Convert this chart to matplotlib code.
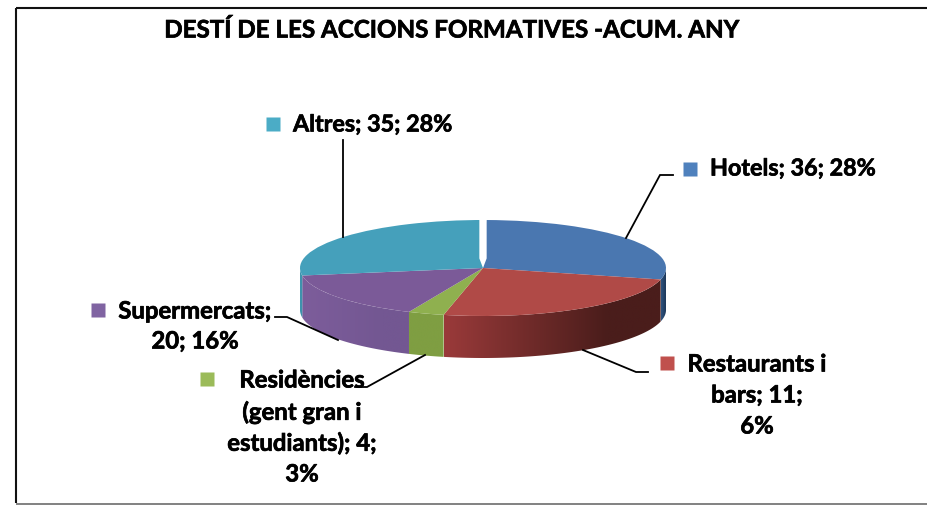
import numpy as np
import matplotlib
matplotlib.use("Agg")
import matplotlib.pyplot as plt
import matplotlib.patheffects as pe
from matplotlib.colors import to_rgb
from matplotlib.patches import Polygon

# Data
categories = ["Hotels", "Restaurants i bars", "Residències (gent gran i estudiants)", "Supermercats", "Altres"]
slice_values = [36, 31, 4, 20, 35]      # sizes as drawn in the picture
top_colors = ["#4a77b0", "#b04a47", "#8fb04f", "#7b5a98", "#45a0bb"]
side_left = ["#2f5480", "#9a3a3a", "#7f9e42", "#7d5d9b", "#3f93ad"]
side_right = ["#1e3a5c", "#4a1d1b", "#7f9e42", "#735792", "#3f93ad"]
marker_colors = ["#4f81bd", "#c0504d", "#9bbb59", "#8064a2", "#4bacc6"]
title = "DESTÍ DE LES ACCIONS FORMATIVES -ACUM. ANY"

# label text: lines, x, y list, alignment; marker pos; leader; font size
labels = [
    (["Hotels; 36; 28%"], 710, [169], "left", (690.5, 168.5), [(673, 175), (660, 175), (626, 238)], 16.8),
    (["Restaurants i", "bars; 11;", "6%"], 757, [364, 395, 426], "center", (667.5, 363), [(648, 372), (636, 372), (583, 350)], 17.2),
    (["Residències", "(gent gran i", "estudiants); 4;", "3%"], 302, [380, 412, 443, 474], "center", (207, 379), [(355, 387), (367, 387), (425, 355)], 17.2),
    (["Supermercats;", "20; 16%"], 195, [311, 341], "center", (98, 310), [(275, 317), (287, 317), (338, 340)], 17.2),
    (["Altres; 35; 28%"], 293, [125], "left", (273.5, 123.5), [(343, 140), (343, 237)], 16.8),
]
FONT = "Lato"
W, H = 928, 505
CX, CY, RX, RY, DEPTH = 483, 268, 183, 48, 42
START = 89
bolder = [pe.withStroke(linewidth=0.5, foreground="black")]

fig = plt.figure(figsize=(W / 100, H / 100), dpi=100, facecolor="white")

# frame in pixel coordinates
bg = fig.add_axes([0, 0, 1, 1])
bg.set_xlim(0, W)
bg.set_ylim(H, 0)
bg.axis("off")
bg.plot([16, 16], [8, 503], color="#111111", lw=1.5, solid_capstyle="butt")
bg.plot([16, W], [8, 8], color="#111111", lw=1.5, solid_capstyle="butt")
bg.plot([16, W], [503.5, 503.5], color="#777777", lw=1.3, solid_capstyle="butt")

# pie: unit circle stretched to an ellipse by the axes box
ax = fig.add_axes([(CX - RX) / W, 1 - (CY + RY) / H, 2 * RX / W, 2 * RY / H])
wedges, _ = ax.pie(slice_values, colors=top_colors, startangle=START, counterclock=False,
                   radius=1, wedgeprops={"linewidth": 0})
for w in wedges:
    w.set_clip_on(False)
    w.set_zorder(5)
# white gap between the first and last slice
ax.fill([0, -0.02, -0.02, 0.02, 0.02], [0.0, 0.2, 1.04, 1.04, 0.2], color="white", lw=0, clip_on=False, zorder=6)

# side walls: horizontal gradient clipped to each visible arc
depth = DEPTH / RY
vals = np.array(slice_values, float)
edges = START - np.concatenate([[0], np.cumsum(vals)]) / vals.sum() * 360
for i in range(len(vals)):
    a0, a1 = edges[i + 1], edges[i]
    for lo, hi in [(-180, 0), (-540, -360)]:
        s, e = max(a0, lo), min(a1, hi)
        if e <= s:
            continue
        t = np.radians(np.linspace(s, e, 120))
        xs, ys = np.cos(t), np.sin(t)
        poly = Polygon(np.column_stack([np.r_[xs, xs[::-1]], np.r_[ys, ys[::-1] - depth]]),
                       transform=ax.transData, facecolor="none", edgecolor="none")
        ax.add_patch(poly)
        poly.set_clip_on(False)
        x0, x1 = xs.min(), xs.max()
        f = np.clip(np.linspace(0, 1, 256) / 0.75, 0, 1)[None, :, None]
        grad = (1 - f) * np.array(to_rgb(side_left[i]))[None, None, :] + f * np.array(to_rgb(side_right[i]))[None, None, :]
        im = ax.imshow(grad, extent=(x0, x1, -1 - depth, 1), aspect="auto", zorder=3, interpolation="bilinear")
        im.set_clip_path(poly)
        im.set_clip_box(fig.bbox)

ax.set_aspect("auto")
ax.set_xlim(-1, 1)
ax.set_ylim(-1, 1)
ax.axis("off")

# labels, markers and leader lines on top
over = fig.add_axes([0, 0, 1, 1], facecolor="none")
over.set_xlim(0, W)
over.set_ylim(H, 0)
over.axis("off")
over.text(452, 30, title, ha="center", va="center", family=FONT, weight="bold",
          fontsize=17.4, color="black", path_effects=bolder)
for (lines, x, ys, ha, mk, leader, fs), col in zip(labels, marker_colors):
    for line, y in zip(lines, ys):
        over.text(x, y, line, ha=ha, va="center", family=FONT, weight="bold",
                  fontsize=fs, color="black", path_effects=bolder)
    over.plot([mk[0]], [mk[1]], marker="s", ms=10.5, mfc=col, mec="none", ls="none")
    lx, ly = zip(*leader)
    over.plot(lx, ly, color="black", lw=1.3, solid_joinstyle="miter", zorder=6)

fig.savefig("out.png", dpi=100, facecolor="white")
